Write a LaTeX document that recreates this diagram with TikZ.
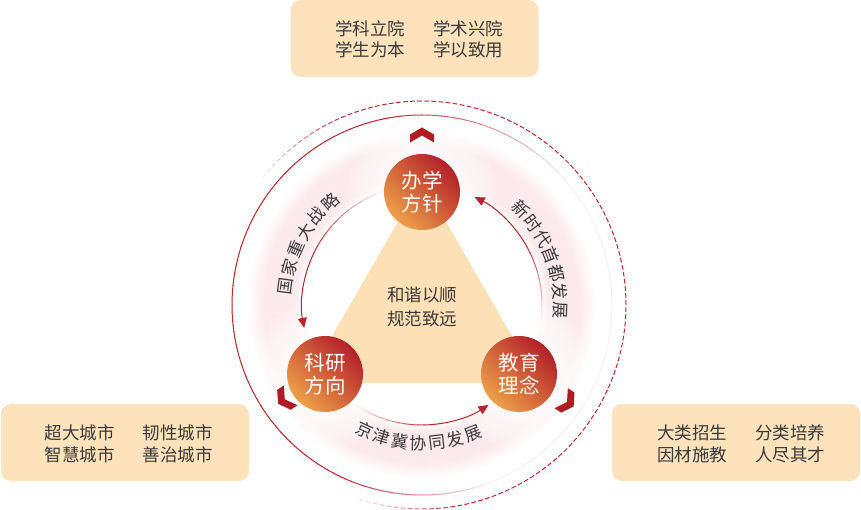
\documentclass[tikz,border=0pt]{standalone}
\usepackage{fontspec}
\setmainfont{Noto Sans CJK SC}
\usetikzlibrary{arrows.meta,calc}
\definecolor{peach}{HTML}{FDE2BC}
\definecolor{tri}{HTML}{FDE0B6}
\definecolor{txt}{HTML}{3A3A3A}
\definecolor{cred}{HTML}{B3202A}
\definecolor{corange}{HTML}{EDA048}
\definecolor{arcc}{HTML}{B8262B}
\definecolor{ringc}{HTML}{C0282E}
\definecolor{band}{HTML}{FCE9EC}
\definecolor{chevc}{HTML}{B01C22}
\newcommand\fadearc[3]{%
  \pgfmathsetmacro\fa{#1}\pgfmathsetmacro\fb{#2}%
  \pgfmathsetmacro\fm{#1+0.55*(#2-#1)}%
  \coordinate (#3) at ($(O)+(\fa:120)$);
  \foreach \k in {0,...,11}{%
    \pgfmathsetmacro\aa{\fa+(\fm-\fa)*\k/12}%
    \pgfmathsetmacro\ab{\fa+(\fm-\fa)*(\k+1.15)/12}%
    \pgfmathsetmacro\pc{8+87*\k/11}%
    \draw[arcc!\pc!white,line width=1pt] ($(O)+(\aa:120)$) arc[start angle=\aa,end angle=\ab,radius=120];
  }
  \draw[conn,-{Triangle[length=10pt,width=9pt]}] ($(O)+(\fm:120)$) arc[start angle=\fm,end angle=\fb,radius=120];
}
\begin{document}
\begin{tikzpicture}[x=1pt,y=1pt,
  box/.style={draw=none,fill=peach,rounded corners=10pt,minimum width=248pt,minimum height=77pt,inner sep=0pt},
  boxtext/.style={text=txt,font=\fontsize{17.5}{21.5}\selectfont,align=center,inner sep=0pt},
  hub/.style={circle,minimum size=76pt,inner sep=0pt,top color=cred,bottom color=corange,shading angle=-45,text=white,font=\fontsize{20.5}{23}\selectfont,align=center},
  arclabel/.style={text=txt,font=\fontsize{17}{20}\selectfont,inner sep=0pt},
  conn/.style={draw=arcc,line width=1pt},
  chev/.style={fill=chevc}
]
\useasboundingbox (0,0) rectangle (861,510);
\coordinate (O) at (422,205);
\coordinate (pT) at (422,318);
\coordinate (pL) at (325,136);
\coordinate (pR) at (519,136);
% pink band
\foreach \r in {118,119.5,...,174}{
  \pgfmathsetmacro\bint{ifthenelse(\r<128,(\r-118)/10*100,ifthenelse(\r<=158,100,max(0,(174-\r)/16*100)))}
  \draw[band!\bint!white,line width=1.8pt] (O) circle[radius=\r];
}
% soft white halos round the hubs
\foreach \p in {pT,pL,pR}{
  \foreach \hr in {42,46,...,74}{
    \fill[white,opacity=0.16] (\p) circle[radius=\hr];
  }
}
% solid outer ring
\foreach \a in {0,2,...,358}{
  \pgfmathsetmacro\pc{ifthenelse(\a<40,7,ifthenelse(\a<100,7+(\a-40)/60*93,ifthenelse(\a<=245,100,ifthenelse(\a<=290,100-(\a-245)/45*93,7))))}
  \draw[ringc!\pc!white,line width=1pt] ($(O)+(\a:190)$) arc[start angle=\a,end angle=\a+2.2,radius=190];
}
% dashed outer ring
\foreach \a in {-108,-106,...,140}{
  \pgfmathsetmacro\pc{ifthenelse(\a<-80,10+(\a+108)/28*90,ifthenelse(\a>110,100-(\a-110)/30*90,100))}
  \draw[ringc!\pc!white,line width=1pt] ($(O)+(\a:204)$) arc[start angle=\a,end angle=\a+1.35,radius=204];
}
% triangle
\fill[tri] (422,330) -- (305,127) -- (539,127) -- cycle;
\node[boxtext,font=\fontsize{17.5}{24}\selectfont] (motto) at (422,203) {和谐以顺\\规范致远};
% connectors
\fadearc{109}{191}{t2l}
\fadearc{237.5}{303.6}{l2r}
\fadearc{-7}{64}{r2t}
% hubs
\node[hub] (hubT) at (pT) {办学\\方针};
\node[hub] (hubL) at (pL) {科研\\方向};
\node[hub] (hubR) at (pR) {教育\\理念};
% arc labels
\foreach \ch [count=\i from 0] in {国,家,重,大,战,略}{
  \pgfmathsetmacro\ang{152+(2.5-\i)*8.1}
  \node[arclabel,rotate=\ang-90] (la\i) at ($(O)+(\ang:138)$) {\ch};
}
\foreach \ch [count=\i from 0] in {新,时,代,首,都,发,展}{
  \pgfmathsetmacro\ang{21+(3-\i)*7.7}
  \node[arclabel,rotate=\ang-90] (lb\i) at ($(O)+(\ang:138)$) {\ch};
}
\foreach \ch [count=\i from 0] in {京,津,冀,协,同,发,展}{
  \pgfmathsetmacro\ang{268.5+(\i-3)*7.7}
  \node[arclabel,rotate=\ang+90] (lc\i) at ($(O)+(\ang:138)$) {\ch};
}
% chevrons
\foreach \ang/\rr in {90/170,214.5/167,326.2/175}{
  \fill[chev,shift={($(O)+(\ang:\rr)$)},rotate=\ang-90] (0,7.5)--(12,0.5)--(12,-7.5)--(0,-0.5)--(-12,-7.5)--(-12,0.5)--cycle;
}
% boxes
\node[box] (boxT) at (414.5,471.5) {};
\node[boxtext] (txtT) at (419,470.5) {学科立院\hspace{28pt}学术兴院\\学生为本\hspace{28pt}学以致用};
\node[box] (boxL) at (125,67.5) {};
\node[boxtext] (txtL) at (128.5,66) {超大城市\hspace{28pt}韧性城市\\智慧城市\hspace{28pt}善治城市};
\node[box] (boxR) at (736,67.5) {};
\node[boxtext] (txtR) at (741,66) {大类招生\hspace{28pt}分类培养\\因材施教\hspace{28pt}人尽其才};
\end{tikzpicture}
\end{document}
